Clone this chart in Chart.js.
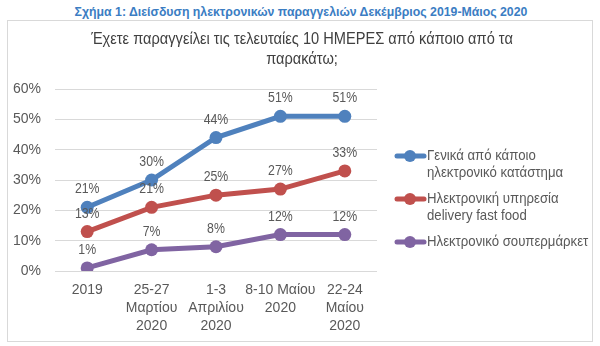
<!DOCTYPE html>
<html>
<head>
<meta charset="utf-8">
<script src="https://cdn.jsdelivr.net/npm/chart.js@4"></script>
<style>
    html, body { margin: 0; padding: 0; background: #ffffff; }
    body { width: 600px; height: 346px; position: relative; overflow: hidden; }
    #caption {
        position: absolute; left: 0; top: 5px; width: 602px; text-align: center;
        font: bold 12.3px "Liberation Sans", Arial, sans-serif; color: #3b7dc3;
    }
    #frame {
        position: absolute; left: 7px; top: 20px; width: 584px; height: 320px;
        border: 1px solid #d9d9d9; background: #ffffff;
    }
    canvas { display: block; }
</style>
</head>
<body>
<div id="caption">Σχήμα 1: Διείσδυση ηλεκτρονικών παραγγελιών Δεκέμβριος 2019-Μάιος 2020</div>
<div id="frame"><canvas id="ordersChart" width="584" height="320"></canvas></div>
<script>
// Περίοδοι μέτρησης
const periods = [
    '2019',
    ['25-27', 'Μαρτίου', '2020'],
    ['1-3', 'Απριλίου', '2020'],
    ['8-10 Μαίου', '2020'],
    ['22-24', 'Μαίου', '2020']
];

// Ποσοστά (%) ανά σειρά
const generalStore = [21, 30, 44, 51, 51];
const fastFood = [13, 21, 25, 27, 33];
const supermarket = [1, 7, 8, 12, 12];

const seriesNames = [
    ['Γενικά από κάποιο', 'ηλεκτρονικό κατάστημα'],
    ['Ηλεκτρονική υπηρεσία', 'delivery fast food'],
    ['Ηλεκτρονικό σουπερμάρκετ']
];

const chartTitle = ['Έχετε παραγγείλει τις τελευταίες 10 ΗΜΕΡΕΣ από κάποιο από τα', 'παρακάτω;'];

const yTicks = [0, 10, 20, 30, 40, 50, 60];

const COLORS = {
    blue: '#4f81bd',
    red: '#c0504d',
    purple: '#8064a2',
    text: '#595959',
    title: '#404040',
    grid: '#d9d9d9'
};

const FONT = '"Liberation Sans", Arial, sans-serif';

// Κείμενο λίγο στενότερο (όπως Arial Narrow)
function narrowText(ctx, text, x, y, squeeze) {
    const w = ctx.measureText(text).width;
    ctx.fillText(text, x, y, w * squeeze);
}

// Τίτλος γραφήματος, κεντραρισμένος σε όλο το πλαίσιο
const chartHeading = {
    id: 'chartHeading',
    afterDraw(chart) {
        const ctx = chart.ctx;
        ctx.save();
        ctx.font = '17px ' + FONT;
        ctx.fillStyle = COLORS.title;
        ctx.textAlign = 'center';
        ctx.textBaseline = 'alphabetic';
        const cx = chart.width / 2 + 2;
        narrowText(ctx, chartTitle[0], cx, 23, 0.86);
        narrowText(ctx, chartTitle[1], cx, 42.5, 0.86);
        ctx.restore();
    }
};

// Ετικέτες τιμών πάνω από κάθε σημείο
const valueLabels = {
    id: 'valueLabels',
    afterDatasetsDraw(chart) {
        const ctx = chart.ctx;
        ctx.save();
        ctx.font = '15px ' + FONT;
        ctx.fillStyle = COLORS.text;
        ctx.textAlign = 'center';
        ctx.textBaseline = 'middle';
        chart.data.datasets.forEach((ds, i) => {
            chart.getDatasetMeta(i).data.forEach((pt, j) => {
                narrowText(ctx, ds.data[j] + '%', pt.x, pt.y - 18, 0.82);
            });
        });
        ctx.restore();
    }
};

// Υπόμνημα στα δεξιά με κείμενο σε πολλές γραμμές
const sideLegend = {
    id: 'sideLegend',
    afterDraw(chart) {
        const ctx = chart.ctx;
        const x0 = 387;
        const starts = [135, 178, 221];
        ctx.save();
        ctx.font = '15px ' + FONT;
        ctx.textBaseline = 'middle';
        chart.data.datasets.forEach((ds, i) => {
            const y = starts[i];
            ctx.strokeStyle = ds.borderColor;
            ctx.lineWidth = 5;
            ctx.lineCap = 'round';
            ctx.beginPath();
            ctx.moveTo(x0 + 2, y);
            ctx.lineTo(x0 + 29, y);
            ctx.stroke();
            ctx.fillStyle = ds.borderColor;
            ctx.beginPath();
            ctx.arc(x0 + 15, y, 6, 0, Math.PI * 2);
            ctx.fill();
            ctx.fillStyle = COLORS.text;
            ctx.textAlign = 'left';
            seriesNames[i].forEach((line, k) => {
                narrowText(ctx, line, x0 + 32, y + k * 16.5, 0.88);
            });
        });
        ctx.restore();
    }
};

function makeSeries(data, color) {
    return {
        data: data,
        borderColor: color,
        backgroundColor: color,
        borderWidth: 5,
        pointRadius: 6.5,
        pointHoverRadius: 6.5,
        pointBorderWidth: 0,
        tension: 0
    };
}

function initChart() {
    const ctx = document.getElementById('ordersChart').getContext('2d');
    return new Chart(ctx, {
        type: 'line',
        data: {
            labels: periods,
            datasets: [
                makeSeries(generalStore, COLORS.blue),
                makeSeries(fastFood, COLORS.red),
                makeSeries(supermarket, COLORS.purple)
            ]
        },
        options: {
            responsive: false,
            animation: false,
            layout: { padding: { left: 0, right: 215, top: 68, bottom: 5 } },
            plugins: {
                legend: { display: false },
                tooltip: { enabled: false },
                title: { display: false }
            },
            scales: {
                x: {
                    offset: true,
                    afterFit(scale) { scale.height = 65; },
                    grid: { display: false, drawTicks: false },
                    border: { display: false },
                    ticks: {
                        color: COLORS.text,
                        font: { family: FONT, size: 14, lineHeight: 1.3 },
                        padding: 10,
                        maxRotation: 0,
                        autoSkip: false
                    }
                },
                y: {
                    min: 0,
                    max: 60,
                    afterFit(scale) { scale.width = 47; },
                    afterBuildTicks(scale) { scale.ticks = yTicks.map(v => ({ value: v })); },
                    grid: { color: COLORS.grid, lineWidth: 1, drawTicks: false },
                    border: { display: false },
                    ticks: {
                        color: COLORS.text,
                        font: { family: FONT, size: 14 },
                        padding: 14,
                        callback: v => v + '%'
                    }
                }
            }
        },
        plugins: [chartHeading, valueLabels, sideLegend]
    });
}

initChart();
</script>
</body>
</html>
